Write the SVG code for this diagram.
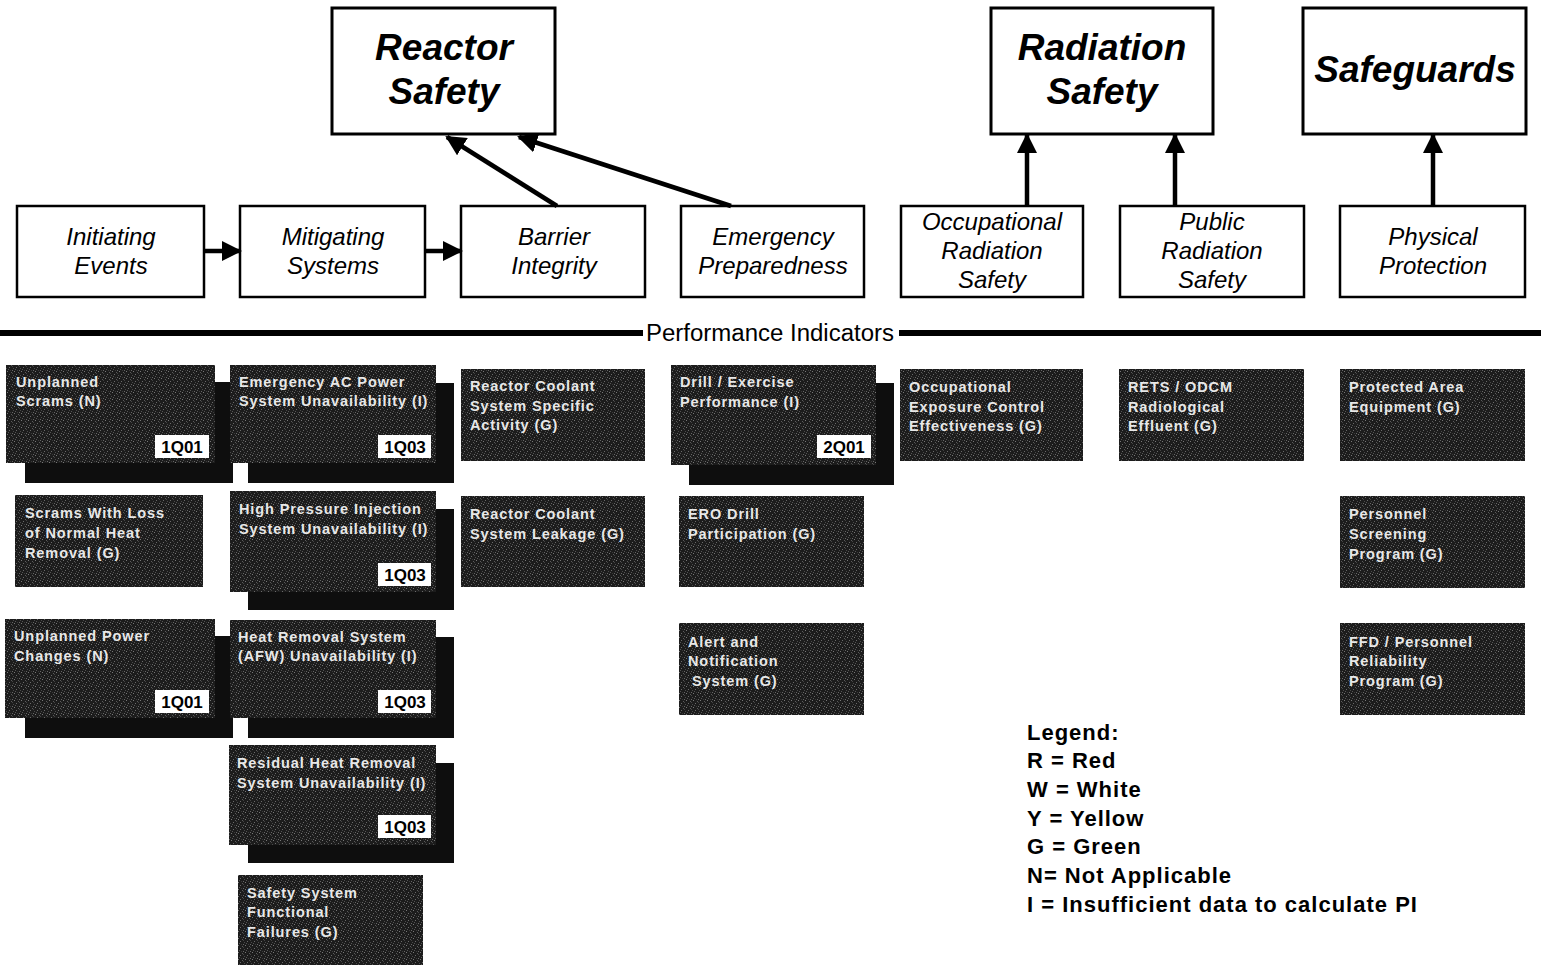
<svg xmlns="http://www.w3.org/2000/svg" width="1541" height="965" viewBox="0 0 1541 965">
<defs>
<pattern id="speck" width="7" height="7" patternUnits="userSpaceOnUse">
<rect width="7" height="7" fill="#1c1c1c"/>
<rect x="0" y="0" width="1" height="1" fill="#777"/>
<rect x="4" y="1" width="1" height="1" fill="#5a5a5a"/>
<rect x="2" y="3" width="1" height="1" fill="#6a6a6a"/>
<rect x="6" y="4" width="1" height="1" fill="#4a4a4a"/>
<rect x="1" y="5" width="1" height="1" fill="#555"/>
<rect x="5" y="6" width="1" height="1" fill="#666"/>
<rect x="3" y="6" width="1" height="1" fill="#3a3a3a"/>
<rect x="5" y="2" width="1" height="1" fill="#444"/>
</pattern>
<marker id="ah" viewBox="0 0 10 10" refX="9" refY="5" markerWidth="4.5" markerHeight="4.5" orient="auto" markerUnits="strokeWidth">
<path d="M0,0 L10,5 L0,10 Z" fill="#000"/>
</marker>
</defs>
<style>
.top{fill:#fff;stroke:#000;stroke-width:3}
.cat{fill:#fff;stroke:#000;stroke-width:2.5}
.tt{font-family:"Liberation Sans",Arial,sans-serif;font-weight:bold;font-style:italic;font-size:37px;fill:#000;text-anchor:middle}
.ct{font-family:"Liberation Sans",Arial,sans-serif;font-style:italic;font-size:24px;fill:#000;text-anchor:middle}
.pi{fill:url(#speck)}
.sh{fill:#0e0e0e}
.pt{font-family:"Liberation Sans",Arial,sans-serif;font-weight:bold;font-size:14.5px;fill:#e8e8e8;letter-spacing:0.9px}
.qb{fill:#fff}
.qt{font-family:"Liberation Sans",Arial,sans-serif;font-weight:bold;font-size:17px;fill:#000;text-anchor:middle}
.conn{stroke:#000;stroke-width:4.5;fill:none}
.lg{font-family:"Liberation Sans",Arial,sans-serif;font-weight:bold;font-size:22px;fill:#000;letter-spacing:1px}
</style>
<rect width="1541" height="965" fill="#fff"/>

<g id="reactor-safety"><rect class="top" x="332" y="8" width="223" height="126"/><text class="tt" x="444" y="60">Reactor</text><text class="tt" x="444" y="104">Safety</text></g>
<g id="radiation-safety"><rect class="top" x="991" y="8" width="222" height="126"/><text class="tt" x="1102" y="60">Radiation</text><text class="tt" x="1102" y="104">Safety</text></g>
<g id="safeguards"><rect class="top" x="1303" y="8" width="223" height="126"/><text class="tt" x="1415" y="82">Safeguards</text></g>

<g id="initiating-events"><rect class="cat" x="17" y="206" width="187" height="91"/><text class="ct" x="111" y="245">Initiating</text><text class="ct" x="111" y="274">Events</text></g>
<g id="mitigating-systems"><rect class="cat" x="240" y="206" width="185" height="91"/><text class="ct" x="333" y="245">Mitigating</text><text class="ct" x="333" y="274">Systems</text></g>
<g id="barrier-integrity"><rect class="cat" x="461" y="206" width="184" height="91"/><text class="ct" x="554" y="245">Barrier</text><text class="ct" x="554" y="274">Integrity</text></g>
<g id="emergency-preparedness"><rect class="cat" x="681" y="206" width="183" height="91"/><text class="ct" x="773" y="245">Emergency</text><text class="ct" x="773" y="274">Preparedness</text></g>
<g id="occupational-radiation-safety"><rect class="cat" x="901" y="206" width="182" height="91"/><text class="ct" x="992" y="230">Occupational</text><text class="ct" x="992" y="259">Radiation</text><text class="ct" x="992" y="288">Safety</text></g>
<g id="public-radiation-safety"><rect class="cat" x="1120" y="206" width="184" height="91"/><text class="ct" x="1212" y="230">Public</text><text class="ct" x="1212" y="259">Radiation</text><text class="ct" x="1212" y="288">Safety</text></g>
<g id="physical-protection"><rect class="cat" x="1340" y="206" width="185" height="91"/><text class="ct" x="1433" y="245">Physical</text><text class="ct" x="1433" y="274">Protection</text></g>

<g id="connectors">
<line class="conn" x1="204" y1="251" x2="240" y2="251" marker-end="url(#ah)"/>
<line class="conn" x1="425" y1="251" x2="461" y2="251" marker-end="url(#ah)"/>
<line class="conn" x1="557" y1="206" x2="447" y2="137" marker-end="url(#ah)"/>
<line class="conn" x1="731" y1="206" x2="519" y2="137" marker-end="url(#ah)"/>
<line class="conn" x1="1027" y1="206" x2="1027" y2="135" marker-end="url(#ah)"/>
<line class="conn" x1="1175" y1="206" x2="1175" y2="135" marker-end="url(#ah)"/>
<line class="conn" x1="1433" y1="206" x2="1433" y2="135" marker-end="url(#ah)"/>
</g>

<g id="performance-indicators">
<rect x="0" y="330" width="643" height="6" fill="#000"/>
<rect x="899" y="330" width="642" height="6" fill="#000"/>
<text x="770" y="341" font-family="'Liberation Sans',Arial,sans-serif" font-size="23" text-anchor="middle" textLength="248" lengthAdjust="spacingAndGlyphs">Performance Indicators</text>
</g>

<g id="unplanned-scrams"><rect class="sh" x="25" y="382" width="208" height="101"/><rect class="pi" x="6" y="365" width="209" height="98"/><text class="pt" x="16" y="387">Unplanned</text><text class="pt" x="16" y="406">Scrams (N)</text><rect class="qb" x="155" y="435" width="54" height="23"/><text class="qt" x="182" y="453">1Q01</text></g>
<g id="scrams-loss-heat"><rect class="pi" x="15" y="495" width="188" height="92"/><text class="pt" x="25" y="518">Scrams With Loss</text><text class="pt" x="25" y="538">of Normal Heat</text><text class="pt" x="25" y="558">Removal (G)</text></g>
<g id="unplanned-power-changes"><rect class="sh" x="25" y="636" width="208" height="102"/><rect class="pi" x="5" y="619" width="210" height="99"/><text class="pt" x="14" y="641">Unplanned Power</text><text class="pt" x="14" y="661">Changes (N)</text><rect class="qb" x="155" y="690" width="54" height="23"/><text class="qt" x="182" y="708">1Q01</text></g>

<g id="emergency-ac"><rect class="sh" x="248" y="383" width="206" height="100"/><rect class="pi" x="230" y="365" width="206" height="98"/><text class="pt" x="239" y="387">Emergency AC Power</text><text class="pt" x="239" y="406">System Unavailability (I)</text><rect class="qb" x="378" y="435" width="53" height="23"/><text class="qt" x="405" y="453">1Q03</text></g>
<g id="hpi"><rect class="sh" x="248" y="509" width="206" height="101"/><rect class="pi" x="230" y="491" width="206" height="101"/><text class="pt" x="239" y="514">High Pressure Injection</text><text class="pt" x="239" y="534">System Unavailability (I)</text><rect class="qb" x="378" y="563" width="53" height="23"/><text class="qt" x="405" y="581">1Q03</text></g>
<g id="heat-removal"><rect class="sh" x="248" y="637" width="206" height="101"/><rect class="pi" x="230" y="620" width="206" height="98"/><text class="pt" x="238" y="642">Heat Removal System</text><text class="pt" x="238" y="661">(AFW) Unavailability (I)</text><rect class="qb" x="378" y="690" width="53" height="23"/><text class="qt" x="405" y="708">1Q03</text></g>
<g id="rhr"><rect class="sh" x="248" y="763" width="206" height="100"/><rect class="pi" x="229" y="745" width="207" height="100"/><text class="pt" x="237" y="768">Residual Heat Removal</text><text class="pt" x="237" y="788">System Unavailability (I)</text><rect class="qb" x="378" y="815" width="53" height="23"/><text class="qt" x="405" y="833">1Q03</text></g>
<g id="ssff"><rect class="pi" x="238" y="875" width="185" height="90"/><text class="pt" x="247" y="898">Safety System</text><text class="pt" x="247" y="917">Functional</text><text class="pt" x="247" y="937">Failures (G)</text></g>

<g id="rcs-activity"><rect class="pi" x="461" y="369" width="184" height="92"/><text class="pt" x="470" y="391">Reactor Coolant</text><text class="pt" x="470" y="411">System Specific</text><text class="pt" x="470" y="430">Activity (G)</text></g>
<g id="rcs-leakage"><rect class="pi" x="461" y="496" width="184" height="91"/><text class="pt" x="470" y="519">Reactor Coolant</text><text class="pt" x="470" y="539">System Leakage (G)</text></g>

<g id="drill-exercise"><rect class="sh" x="689" y="383" width="205" height="102"/><rect class="pi" x="671" y="365" width="205" height="100"/><text class="pt" x="680" y="387">Drill / Exercise</text><text class="pt" x="680" y="407">Performance (I)</text><rect class="qb" x="817" y="435" width="54" height="23"/><text class="qt" x="844" y="453">2Q01</text></g>
<g id="ero-drill"><rect class="pi" x="679" y="496" width="185" height="91"/><text class="pt" x="688" y="519">ERO Drill</text><text class="pt" x="688" y="539">Participation (G)</text></g>
<g id="alert-notification"><rect class="pi" x="679" y="623" width="185" height="92"/><text class="pt" x="688" y="647">Alert and</text><text class="pt" x="688" y="666">Notification</text><text class="pt" x="692" y="686">System (G)</text></g>

<g id="occupational-exposure"><rect class="pi" x="900" y="369" width="183" height="92"/><text class="pt" x="909" y="392">Occupational</text><text class="pt" x="909" y="412">Exposure Control</text><text class="pt" x="909" y="431">Effectiveness (G)</text></g>
<g id="rets-odcm"><rect class="pi" x="1119" y="369" width="185" height="92"/><text class="pt" x="1128" y="392">RETS / ODCM</text><text class="pt" x="1128" y="412">Radiological</text><text class="pt" x="1128" y="431">Effluent (G)</text></g>

<g id="protected-area"><rect class="pi" x="1340" y="369" width="185" height="92"/><text class="pt" x="1349" y="392">Protected Area</text><text class="pt" x="1349" y="412">Equipment (G)</text></g>
<g id="personnel-screening"><rect class="pi" x="1340" y="496" width="185" height="92"/><text class="pt" x="1349" y="519">Personnel</text><text class="pt" x="1349" y="539">Screening</text><text class="pt" x="1349" y="559">Program (G)</text></g>
<g id="ffd"><rect class="pi" x="1340" y="623" width="185" height="92"/><text class="pt" x="1349" y="647">FFD / Personnel</text><text class="pt" x="1349" y="666">Reliability</text><text class="pt" x="1349" y="686">Program (G)</text></g>

<g id="legend">
<text class="lg" x="1027" y="740">Legend:</text>
<text class="lg" x="1027" y="768">R = Red</text>
<text class="lg" x="1027" y="797">W = White</text>
<text class="lg" x="1027" y="826">Y = Yellow</text>
<text class="lg" x="1027" y="854">G = Green</text>
<text class="lg" x="1027" y="883">N= Not Applicable</text>
<text class="lg" x="1027" y="912">I = Insufficient data to calculate PI</text>
</g>
</svg>
